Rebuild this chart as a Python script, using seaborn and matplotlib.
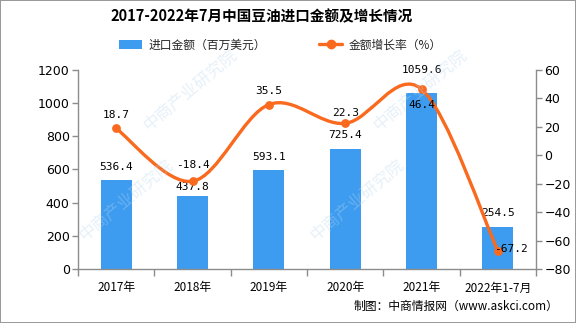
import numpy as np
import pandas as pd
import matplotlib
matplotlib.use("Agg")
import matplotlib.pyplot as plt
import seaborn as sns
from matplotlib.path import Path
from matplotlib.patches import PathPatch, Patch
from matplotlib.lines import Line2D

categories = ["2017年", "2018年", "2019年", "2020年", "2021年", "2022年1-7月"]
amount = [536.4, 437.8, 593.1, 725.4, 1059.6, 254.5]
growth = [18.7, -18.4, 35.5, 22.3, 46.4, -67.2]
left_ticks = [0, 200, 400, 600, 800, 1000, 1200]
right_ticks = [-80, -60, -40, -20, 0, 20, 40, 60]

title = "2017-2022年7月中国豆油进口金额及增长情况"
bar_name = "进口金额（百万美元）"
line_name = "金额增长率（%）"
source = "制图：中商情报网（www.askci.com）"

sns.set_theme(style="white")
plt.rcParams['font.family'] = ['Noto Sans CJK SC', 'DejaVu Sans']

BAR = "#3D9CF0"
LINE = "#F96A1E"
GREY = "#8C8C8C"

fig = plt.figure(figsize=(5.76, 3.23), dpi=100)
fig.patch.set_facecolor("white")
fig.patch.set_edgecolor("#9a9a9a")
fig.patch.set_linewidth(1.2)

ax = fig.add_axes([78/576, 1-269/323, (536-78)/576, (269-69.7)/323])

df = pd.DataFrame({"cat": categories, "amount": amount, "growth": growth})
sns.barplot(data=df, x="cat", y="amount", color=BAR, width=0.41, ax=ax,
            saturation=1, edgecolor="none")
ax.set_xlim(-0.5, 5.5)
ax.set_ylim(0, 1200)
ax.set_yticks(left_ticks)
ax.set_xlabel("")
ax.set_ylabel("")

ax2 = ax.twinx()
ax2.set_ylim(-80, 60)
ax2.set_yticks(right_ticks)

# smooth curve (Catmull-Rom -> Bezier) through the data points
xs = np.arange(len(growth), dtype=float)
ys = np.array(growth, dtype=float)
pts = np.column_stack([xs, ys])
verts = [tuple(pts[0])]
codes = [Path.MOVETO]
n = len(pts)
t = 0.5
for i in range(n - 1):
    p0 = pts[i - 1] if i > 0 else pts[i]
    p1 = pts[i]
    p2 = pts[i + 1]
    p3 = pts[i + 2] if i + 2 < n else pts[i + 1]
    c1 = p1 + (p2 - p0) * t / 3
    c2 = p2 - (p3 - p1) * t / 3
    verts += [tuple(c1), tuple(c2), tuple(p2)]
    codes += [Path.CURVE4] * 3
ax2.add_patch(PathPatch(Path(verts, codes), facecolor="none", edgecolor=LINE,
                        lw=2.4, capstyle="round", joinstyle="round", zorder=3))
sns.scatterplot(x=xs, y=ys, ax=ax2, color=LINE, s=40, edgecolor=LINE,
                linewidth=0, zorder=4, legend=False)
ax2.set_xlim(-0.5, 5.5)
ax2.set_ylabel("")

# styling of spines and ticks
for a in (ax, ax2):
    for s in a.spines.values():
        s.set_color(GREY)
        s.set_linewidth(1)
    a.spines["top"].set_visible(False)
    a.grid(False)
ax.spines["right"].set_visible(False)
ax2.spines["left"].set_visible(False)
ax2.spines["bottom"].set_visible(False)

ax.tick_params(axis="y", which="major", direction="out", length=4, width=1,
               color=GREY, labelsize=9, labelcolor="black", pad=2, left=True)
ax2.tick_params(axis="y", which="major", direction="out", length=4, width=1,
                color=GREY, labelsize=9, labelcolor="black", pad=2, right=True)
ax.set_xticks(range(len(categories)))
ax.set_xticklabels(categories)
ax.set_xticks(np.arange(-0.5, 6, 1.0), minor=True)
ax.tick_params(axis="x", which="major", length=0, labelsize=8.5,
               labelcolor="black", pad=9)
ax.tick_params(axis="x", which="minor", direction="out", length=5, width=1,
               color=GREY, bottom=True)
for lab in ax.get_yticklabels() + ax2.get_yticklabels():
    lab.set_family(['DejaVu Sans'])

# data labels
mono = ['DejaVu Sans Mono', 'Noto Sans CJK SC']
bar_off = [6, 3, 6, 6, 13, 6]
for i, v in enumerate(amount):
    ax.annotate(f"{v:.1f}", (i, v), xytext=(0, bar_off[i]), textcoords="offset points",
                ha="center", va="bottom", fontsize=8, family=mono, color="black",
                zorder=6)
line_off = [(0, 6), (0, 8), (0, 6), (0, 4), (0, -8), (-3, -2)]
line_va = ["bottom", "bottom", "bottom", "bottom", "top", "bottom"]
line_ha = ["center", "center", "center", "center", "center", "left"]
for i, v in enumerate(growth):
    ax2.annotate(f"{v:.1f}", (i, v), xytext=line_off[i], textcoords="offset points",
                 ha=line_ha[i], va=line_va[i], fontsize=8, family=mono,
                 color="black", zorder=6)

# title
fig.text(262/576, 1-16/323, title, ha="center", va="center", fontsize=10.5,
         fontweight="bold", color="black")

# legend
handles = [Patch(facecolor=BAR, edgecolor="none", label=bar_name),
           Line2D([0], [0], color=LINE, lw=2.4, marker="o", markersize=6,
                  label=line_name)]
fig.legend(handles=handles, loc="center", bbox_to_anchor=(280/576, 1-45/323),
           ncol=2, frameon=False, fontsize=8.5, handlelength=2.0,
           handleheight=0.8, columnspacing=4.5, handletextpad=0.5)

# source
fig.text(558/576, 1-306/323, source, ha="right", va="center", fontsize=8.5,
         color="black")

# faint watermarks (kept fully inside the figure)
for (wx, wy) in [(0.33, 0.72), (0.73, 0.72), (0.22, 0.38), (0.62, 0.38)]:
    fig.text(wx, wy, "中商产业研究院", rotation=40, fontsize=12, color="#b9d6ee",
             alpha=0.35, ha="center", va="center", zorder=0)

fig.savefig("out.png", dpi=100)
